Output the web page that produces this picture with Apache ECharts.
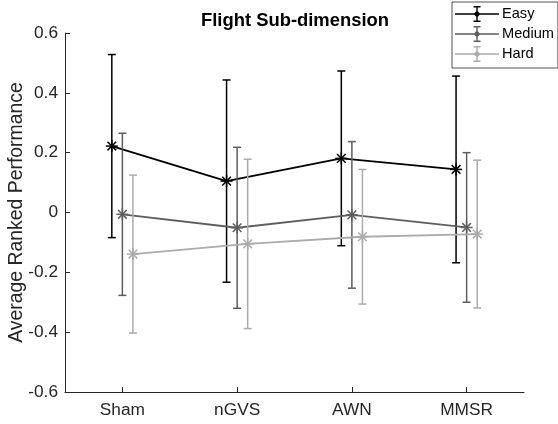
<!DOCTYPE html>
<html>
<head>
<meta charset="utf-8">
<script src="https://cdn.jsdelivr.net/npm/echarts@6/dist/echarts.min.js"></script>
<style>
  html, body { margin: 0; padding: 0; background: #fff; }
  #chart { width: 558px; height: 424px; }
</style>
</head>
<body>
<div id="chart"></div>
<script>
// Stimulation conditions along the x axis
const conditions = ['Sham', 'nGVS', 'AWN', 'MMSR'];
// Difficulty levels
const levels = ['Easy', 'Medium', 'Hard'];
// Mean ranked performance per condition
const easyMean = [0.222, 0.105, 0.181, 0.144];
const mediumMean = [-0.006, -0.051, -0.008, -0.050];
const hardMean = [-0.139, -0.105, -0.081, -0.072];
// Error bar half-lengths per condition
const easyErr = [0.306, 0.338, 0.292, 0.312];
const mediumErr = [0.271, 0.269, 0.245, 0.250];
const hardErr = [0.264, 0.283, 0.225, 0.247];
// Y axis ticks
const yTicks = [-0.6, -0.4, -0.2, 0, 0.2, 0.4, 0.6];

const colors = ['#000000', '#5e5e5e', '#ababab'];
const dodge = [-0.092, 0, 0.092];
const means = [easyMean, mediumMean, hardMean];
const errs = [easyErr, mediumErr, hardErr];
const axisColor = '#262626';
const font = '"Liberation Sans", Arial, Helvetica, sans-serif';

// Legend glyph: horizontal line, vertical error bar with caps, marker
const legendIcon = 'path://M0 7.3H44V8.7H0Z M21.3 0H22.7V16H21.3Z M18.5 0H25.5V1.4H18.5Z M18.5 14.6H25.5V16H18.5Z M22 4.5L25.5 8L22 11.5L18.5 8Z';

function errorBarRenderer(color) {
  return function (params, api) {
    const x = api.value(0), m = api.value(1), e = api.value(2);
    const c = api.coord([x, m]);
    const top = api.coord([x, m + e]);
    const bot = api.coord([x, m - e]);
    const cap = 4;
    const r = 6;
    const d = r * 0.72;
    const style = { stroke: color, lineWidth: 1.5, fill: null };
    const children = [
      { type: 'line', shape: { x1: c[0], y1: top[1], x2: c[0], y2: bot[1] }, style },
      { type: 'line', shape: { x1: c[0] - cap, y1: top[1], x2: c[0] + cap, y2: top[1] }, style },
      { type: 'line', shape: { x1: c[0] - cap, y1: bot[1], x2: c[0] + cap, y2: bot[1] }, style },
      // asterisk marker
      { type: 'line', shape: { x1: c[0] - r, y1: c[1], x2: c[0] + r, y2: c[1] }, style },
      { type: 'line', shape: { x1: c[0], y1: c[1] - r, x2: c[0], y2: c[1] + r }, style },
      { type: 'line', shape: { x1: c[0] - d, y1: c[1] - d, x2: c[0] + d, y2: c[1] + d }, style },
      { type: 'line', shape: { x1: c[0] - d, y1: c[1] + d, x2: c[0] + d, y2: c[1] - d }, style }
    ];
    return { type: 'group', children };
  };
}

const series = [];
levels.forEach(function (name, k) {
  const pts = conditions.map(function (_, i) { return [i + 1 + dodge[k], means[k][i]]; });
  const bars = conditions.map(function (_, i) { return [i + 1 + dodge[k], means[k][i], errs[k][i]]; });
  series.push({
    name: name,
    type: 'line',
    data: pts,
    symbol: 'none',
    color: colors[k],
    lineStyle: { color: colors[k], width: 1.8 },
    z: 2 + k * 2,
    animation: false
  });
  series.push({
    name: name,
    type: 'custom',
    data: bars,
    color: colors[k],
    renderItem: errorBarRenderer(colors[k]),
    encode: { x: 0, y: 1 },
    z: 3 + k * 2,
    animation: false
  });
});

const chart = echarts.init(document.getElementById('chart'));
chart.setOption({
  animation: false,
  backgroundColor: '#ffffff',
  title: {
    text: 'Flight Sub-dimension',
    left: 196,
    top: 7,
    textStyle: { fontFamily: font, fontSize: 18.4, fontWeight: 'bold', color: '#000' }
  },
  legend: {
    data: levels,
    orient: 'vertical',
    left: 452,
    top: 2,
    icon: legendIcon,
    itemWidth: 44,
    itemHeight: 16,
    itemGap: 4,
    padding: [4, 4, 6, 3],
    borderColor: axisColor,
    borderWidth: 0.8,
    backgroundColor: '#ffffff',
    itemStyle: { borderWidth: 0 },
    textStyle: { fontFamily: font, fontSize: 14.6, color: '#000', padding: [0, 0, 0, -2] }
  },
  grid: { left: 65, right: 34, top: 33, bottom: 32, outerBoundsMode: 'none' },
  xAxis: {
    type: 'value',
    min: 0.5,
    max: 4.5,
    axisLine: { onZero: false, lineStyle: { color: axisColor, width: 1 } },
    axisTick: { inside: true, length: 5, lineStyle: { color: axisColor }, customValues: [1, 2, 3, 4] },
    axisLabel: {
      customValues: [1, 2, 3, 4],
      formatter: function (v) { return conditions[Math.round(v) - 1] || ''; },
      fontFamily: font, fontSize: 17.3, color: axisColor, margin: 10
    },
    splitLine: { show: false }
  },
  yAxis: {
    type: 'value',
    min: yTicks[0],
    max: yTicks[yTicks.length - 1],
    interval: 0.2,
    name: 'Average Ranked Performance',
    nameLocation: 'middle',
    nameGap: 39,
    nameMoveOverlap: false,
    nameTextStyle: { fontFamily: font, fontSize: 19.4, color: axisColor },
    axisLine: { show: true, onZero: false, lineStyle: { color: axisColor, width: 1 } },
    axisTick: { show: true, inside: true, length: 5, lineStyle: { color: axisColor } },
    axisLabel: {
      fontFamily: font, fontSize: 17.3, color: axisColor, margin: 7,
      formatter: function (v) { return String(Math.round(v * 10) / 10); }
    },
    splitLine: { show: false }
  },
  series: series
});
</script>
</body>
</html>
